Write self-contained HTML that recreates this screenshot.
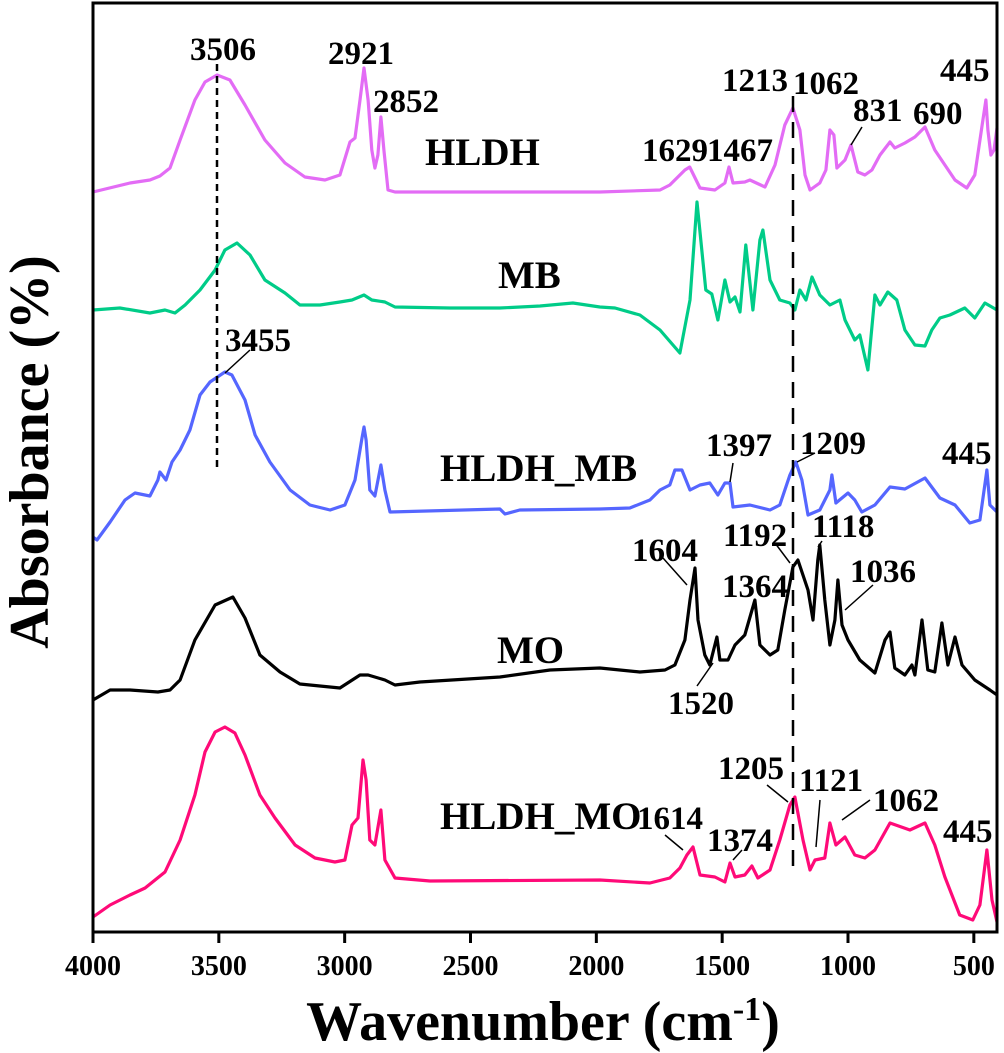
<!DOCTYPE html>
<html><head><meta charset="utf-8"><style>
html,body{margin:0;padding:0;background:#fff;}
svg{display:block;font-family:"Liberation Serif",serif;font-weight:bold;}
</style></head><body>
<svg id="chart" width="1004" height="1053" viewBox="0 0 1004 1053" xmlns="http://www.w3.org/2000/svg">
<g id="series"></g>
<g id="ann"></g>
<rect x="93" y="3" width="904" height="929" fill="none" stroke="#000" stroke-width="3"/>
<g id="xaxis"></g>
<text transform="translate(48,452) rotate(-90)" text-anchor="middle" font-size="56">Absorbance (%)</text>
<text x="543" y="1040" text-anchor="middle" font-size="56">Wavenumber (cm<tspan font-size="34" dy="-20">-1</tspan><tspan dy="20">)</tspan></text>
</svg>
<script>
const xTicks = [4000,3500,3000,2500,2000,1500,1000,500];
const seriesNames = ["HLDH","MB","HLDH_MB","MO","HLDH_MO"];
const seriesColors = ["#e36cf5","#00cc88","#5566ff","#000000","#ff0a78"];
const hldh = [[4000,740],[3853,749],[3774,752],[3734,756],[3694,764],[3654,792],[3595,832],[3555,850],[3507,857],[3456,852],[3396,827],[3317,792],[3237,769],[3158,755],[3078,752],[3019,757],[2979,790],[2959,794],[2939,832],[2923,864],[2907,832],[2892,782],[2880,764],[2868,777],[2856,815],[2844,782],[2828,742],[2800,740],[1986,740],[1747,742],[1708,747],[1648,762],[1629,765],[1588,744],[1529,742],[1489,749],[1473,765],[1457,749],[1410,750],[1390,752],[1330,745],[1290,767],[1251,807],[1219,824],[1191,802],[1171,757],[1151,742],[1112,749],[1088,762],[1072,802],[1056,797],[1044,764],[1012,772],[988,787],[961,760],[933,757],[905,762],[873,777],[833,790],[814,784],[774,789],[734,795],[694,805],[655,782],[615,767],[575,752],[528,744],[496,757],[464,812],[452,832],[444,802],[432,777],[420,782],[408,804]];
const mb = [[4000,622],[3893,624],[3774,619],[3714,622],[3674,619],[3634,627],[3575,642],[3515,662],[3476,682],[3428,689],[3376,677],[3317,652],[3237,639],[3178,627],[3098,627],[3019,630],[2971,632],[2923,637],[2892,632],[2840,630],[2800,625],[2582,624],[2383,624],[2224,626],[2093,629],[1986,625],[1926,624],[1827,617],[1747,602],[1668,579],[1628,632],[1600,730],[1565,642],[1541,638],[1517,612],[1489,652],[1469,630],[1449,635],[1429,620],[1406,687],[1378,622],[1350,692],[1338,702],[1310,652],[1271,632],[1231,629],[1211,622],[1191,642],[1167,632],[1143,655],[1112,637],[1072,627],[1032,632],[1012,612],[973,592],[953,597],[921,562],[893,637],[873,627],[842,640],[806,632],[774,602],[734,587],[694,586],[667,602],[635,614],[595,617],[536,624],[496,614],[456,629],[408,622]];
const hldhMb = [[4000,395],[3984,392],[3932,410],[3873,432],[3833,439],[3774,436],[3742,452],[3734,460],[3710,452],[3686,470],[3654,482],[3615,502],[3575,537],[3535,550],[3476,560],[3448,557],[3396,532],[3356,497],[3297,470],[3217,442],[3138,427],[3058,422],[2999,427],[2959,452],[2931,494],[2923,505],[2915,492],[2900,442],[2880,436],[2856,467],[2840,442],[2820,420],[2383,423],[2363,418],[2304,422],[1986,423],[1867,424],[1787,432],[1747,442],[1708,447],[1688,462],[1660,462],[1628,442],[1588,447],[1549,449],[1517,437],[1489,449],[1469,449],[1457,425],[1390,427],[1310,422],[1271,427],[1231,457],[1207,470],[1183,452],[1159,417],[1112,422],[1072,442],[1064,457],[1048,429],[1000,439],[973,432],[945,420],[893,427],[833,445],[774,443],[694,454],[635,434],[575,427],[516,409],[476,412],[448,462],[436,427],[408,420]];
const mo = [[4000,232],[3932,242],[3853,242],[3742,240],[3694,242],[3654,252],[3595,292],[3515,327],[3444,335],[3396,314],[3337,277],[3257,260],[3178,248],[3019,244],[2939,257],[2907,257],[2840,252],[2800,247],[2701,250],[2383,255],[2184,262],[1986,264],[1827,260],[1727,262],[1688,267],[1648,292],[1628,332],[1608,364],[1596,312],[1569,277],[1549,267],[1521,295],[1509,272],[1477,272],[1449,287],[1410,297],[1370,332],[1350,287],[1310,277],[1279,282],[1251,322],[1219,365],[1199,372],[1159,342],[1139,312],[1120,372],[1112,387],[1092,332],[1072,287],[1052,312],[1040,352],[1024,307],[1000,292],[953,272],[893,259],[853,292],[833,300],[814,264],[774,257],[746,267],[734,257],[706,312],[683,262],[655,260],[627,309],[603,267],[575,295],[547,267],[496,252],[436,242],[408,237]];
const hldhMo = [[4000,15],[3932,27],[3853,37],[3793,44],[3714,60],[3654,92],[3595,137],[3555,180],[3515,200],[3476,205],[3436,199],[3396,177],[3337,137],[3277,114],[3197,87],[3118,74],[3039,70],[2999,72],[2971,107],[2947,114],[2927,172],[2915,152],[2900,92],[2880,87],[2856,122],[2840,72],[2800,54],[2661,51],[1986,52],[1787,49],[1708,54],[1668,64],[1640,77],[1616,85],[1588,57],[1529,55],[1489,50],[1469,69],[1449,55],[1410,57],[1382,66],[1358,54],[1310,62],[1271,92],[1231,127],[1211,135],[1179,92],[1151,62],[1131,72],[1092,74],[1072,109],[1048,87],[1012,95],[973,77],[933,74],[893,82],[833,109],[754,102],[694,109],[655,87],[615,55],[556,17],[504,12],[476,27],[448,82],[428,32],[408,10]];
const allSeries = [hldh, mb, hldhMb, mo, hldhMo];

const NS = "http://www.w3.org/2000/svg";
const X0 = 93, X1 = 999, W0 = 4000, W1 = 400;
function xs(w){ return X0 + (W0 - w) / (W0 - W1) * (X1 - X0); }
function ys(v){ return 932 - v; }

const sg = document.getElementById('series');
allSeries.forEach(function(data, i){
  const p = document.createElementNS(NS, 'path');
  let d = '';
  data.forEach(function(pt, j){ d += (j ? 'L' : 'M') + xs(pt[0]).toFixed(1) + ',' + ys(pt[1]).toFixed(1); });
  p.setAttribute('d', d);
  p.setAttribute('fill', 'none');
  p.setAttribute('stroke', seriesColors[i]);
  p.setAttribute('stroke-width', '3.2');
  p.setAttribute('stroke-linejoin', 'round');
  
  
  sg.appendChild(p);
});

const xa = document.getElementById('xaxis');
xTicks.forEach(function(t){
  const l = document.createElementNS(NS, 'line');
  l.setAttribute('x1', xs(t)); l.setAttribute('x2', xs(t));
  l.setAttribute('y1', 932); l.setAttribute('y2', 943);
  l.setAttribute('stroke', '#000'); l.setAttribute('stroke-width', '3');
  
  
  xa.appendChild(l);
  const tx = document.createElementNS(NS, 'text');
  tx.setAttribute('x', xs(t)); tx.setAttribute('y', 975);
  tx.setAttribute('text-anchor', 'middle'); tx.setAttribute('font-size', '28');
  tx.textContent = t;
  
  
  xa.appendChild(tx);
});
</script>
<svg style="position:absolute;left:0;top:0" width="1004" height="1053" font-family="Liberation Serif, serif" font-weight="bold">
<g stroke="#000" stroke-width="2.5">
<line x1="217" y1="64" x2="217" y2="472" stroke-dasharray="7,5"/>
<line x1="793" y1="96" x2="793" y2="870" stroke-dasharray="16,10"/>
</g>
<g font-size="33" fill="#000">
<text x="190" y="60">3506</text><text x="328" y="64">2921</text><text x="373" y="112">2852</text>
<text x="722" y="91">1213</text><text x="793" y="94">1062</text><text x="853" y="121">831</text><text x="913" y="124">690</text><text x="940" y="81">445</text>
<text x="642" y="161">1629</text><text x="707" y="161">1467</text>
<text x="225" y="351">3455</text><text x="706" y="456">1397</text><text x="800" y="454">1209</text><text x="942" y="464">445</text>
<text x="632" y="561">1604</text><text x="723" y="546">1192</text><text x="812" y="537">1118</text><text x="722" y="597">1364</text><text x="850" y="582">1036</text><text x="668" y="714">1520</text>
<text x="637" y="829">1614</text><text x="707" y="851">1374</text><text x="718" y="779">1205</text><text x="799" y="791">1121</text><text x="873" y="811">1062</text><text x="943" y="842">445</text>
</g>
<g font-size="39" fill="#000">
<text x="425" y="165">HLDH</text><text x="498" y="288">MB</text><text x="440" y="481">HLDH_MB</text><text x="497" y="663">MO</text><text x="440" y="829">HLDH_MO</text>
</g>
<g stroke="#000" stroke-width="1.5">
<line x1="862" y1="127" x2="851" y2="145"/><line x1="250" y1="350" x2="225" y2="373"/>
<line x1="733" y1="463" x2="730" y2="482"/><line x1="815" y1="453" x2="797" y2="462"/>
<line x1="663" y1="558" x2="687" y2="585"/><line x1="775" y1="543" x2="790" y2="563"/><line x1="822" y1="541" x2="818" y2="547"/><line x1="873" y1="585" x2="845" y2="610"/><line x1="697" y1="686" x2="713" y2="663"/>
<line x1="665" y1="835" x2="683" y2="850"/><line x1="742" y1="850" x2="733" y2="860"/><line x1="767" y1="785" x2="788" y2="802"/><line x1="820" y1="800" x2="816" y2="847"/><line x1="870" y1="800" x2="842" y2="820"/>
</g>
</svg>
</body></html>
